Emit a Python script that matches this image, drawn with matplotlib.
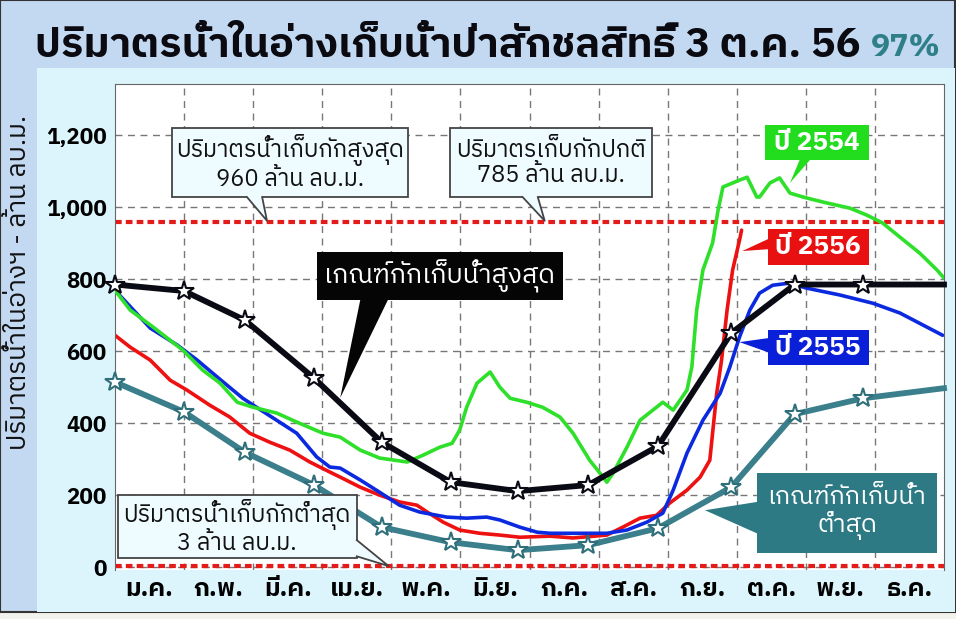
import matplotlib
matplotlib.use("Agg")
import matplotlib.pyplot as plt
from matplotlib import font_manager as fm
from matplotlib.ft2font import FT2Font
from matplotlib.patches import Rectangle, Polygon
from matplotlib.lines import Line2D
import numpy as np

# ---------------- data ----------------
title_text = "ปริมาตรน้ำในอ่างเก็บน้ำป่าสักชลสิทธิ์ 3 ต.ค. 56"
title_pct = "97%"
ylabel_text = "ปริมาตรน้ำในอ่างฯ - ล้าน ลบ.ม."
months = ["ม.ค.", "ก.พ.", "มี.ค.", "เม.ย.", "พ.ค.", "มิ.ย.",
          "ก.ค.", "ส.ค.", "ก.ย.", "ต.ค.", "พ.ย.", "ธ.ค."]
yticks = [0, 200, 400, 600, 800, 1000, 1200]
max_storage = 960
min_storage = 3

# rule curves (month position, million m3)
rule_x = [0, 1.0, 1.88, 2.88, 3.86, 4.86, 5.83, 6.85, 7.86, 8.92, 9.84, 10.83, 12.0]
upper_rule = [785, 767, 686, 525, 347, 236, 211, 228, 336, 650, 785, 785, 785]
lower_rule = [514, 431, 319, 228, 111, 69, 47, 61, 108, 222, 425, 469, 497]

# year 2554
y2554_x = [0, 0.22, 0.55, 0.98, 1.27, 1.52, 1.77, 2.0, 2.34, 2.63, 3.01, 3.26, 3.55,
           3.83, 4.23, 4.46, 4.70, 4.88, 4.99, 5.09, 5.24, 5.43, 5.57, 5.72, 5.96,
           6.19, 6.44, 6.63, 6.87, 7.02, 7.12, 7.21, 7.41, 7.60, 7.93, 8.08, 8.28,
           8.35, 8.42, 8.51, 8.65, 8.73, 8.80, 8.94, 9.04, 9.15, 9.29, 9.33, 9.48,
           9.62, 9.77, 9.96, 10.25, 10.64, 10.88, 11.11, 11.36, 11.65, 11.90, 12.0]
y2554_v = [769, 714, 667, 603, 547, 511, 458, 444, 428, 403, 372, 361, 325,
           303, 292, 311, 333, 344, 381, 444, 511, 542, 500, 469, 458,
           444, 417, 372, 297, 261, 236, 261, 333, 408, 458, 436, 492,
           556, 714, 825, 900, 992, 1056, 1067, 1075, 1083, 1028, 1028, 1067,
           1081, 1039, 1028, 1014, 997, 978, 956, 917, 872, 825, 803]

# year 2555
y2555_x = [0, 0.51, 0.90, 1.19, 1.48, 1.85, 2.0, 2.34, 2.63, 2.92, 3.11, 3.26, 3.55,
           3.83, 4.12, 4.41, 4.80, 5.09, 5.38, 5.57, 5.86, 6.11, 6.30, 6.63, 7.12,
           7.41, 7.70, 7.93, 8.08, 8.28, 8.51, 8.76, 8.90, 9.04, 9.19, 9.33, 9.52,
           9.77, 10.01, 10.49, 10.97, 11.36, 11.75, 11.98]
y2555_v = [769, 664, 617, 575, 528, 469, 450, 408, 372, 306, 278, 275, 242,
           208, 172, 153, 139, 136, 139, 131, 111, 97, 94, 94, 94,
           103, 125, 150, 214, 317, 408, 483, 556, 639, 714, 761, 783,
           789, 775, 756, 733, 706, 667, 644]

# year 2556
y2556_x = [0, 0.22, 0.51, 0.80, 1.04, 1.37, 1.66, 1.95, 2.24, 2.53, 2.82, 3.11, 3.26,
           3.55, 3.83, 4.12, 4.37, 4.52, 4.75, 4.99, 5.28, 5.57, 5.86, 6.30, 6.63,
           7.12, 7.35, 7.60, 7.84, 8.03, 8.28, 8.47, 8.61, 8.65, 8.71, 8.78, 8.86,
           8.94, 9.04, 9.07]
y2556_v = [644, 611, 575, 519, 492, 450, 417, 372, 347, 325, 292, 264, 250,
           222, 200, 181, 172, 153, 125, 103, 94, 89, 83, 86, 81,
           89, 111, 136, 144, 178, 214, 250, 297, 372, 483, 575, 714,
           825, 908, 936]

# ---------------- fonts ----------------
def thai_families():
    good = []
    for fe in fm.fontManager.ttflist:
        try:
            f = FT2Font(fe.fname)
            if f.get_char_index(0x0E01) and f.get_char_index(0x0E49):
                good.append(fe.name)
        except Exception:
            pass
    good = sorted(set(good), key=lambda n: (0 if "Thai" in n else 1, n))
    return good

thai = thai_families()
FAM = (thai[:1] if thai else []) + ["DejaVu Sans"]
plt.rcParams["font.family"] = FAM

# ---------------- figure ----------------
W, H = 956, 619
fig = plt.figure(figsize=(W / 100, H / 100), dpi=100)
fig.patch.set_facecolor("#f3f3ee")

def fx(px):
    return px / W

def fy(py):
    return 1 - py / H

outer = Rectangle((0, fy(612)), fx(955), 1 - fy(612), transform=fig.transFigure,
                  fc="#c3d9f1", ec="#333333", lw=1.5, zorder=-2)
inner = Rectangle((fx(37), fy(612)), fx(955) - fx(37), fy(68) - fy(612),
                  transform=fig.transFigure, fc="#dcf5fc", ec="none", zorder=-1)
fig.patches.extend([outer, inner])

ax = fig.add_axes([fx(115), fy(570), fx(944) - fx(115), fy(84) - fy(570)])
ax.set_zorder(2)
ax.set_facecolor("white")
ax.set_xlim(0, 12)
ax.set_ylim(-8, 1342)

for s in ["left", "top", "right"]:
    ax.spines[s].set_color("#666666")
    ax.spines[s].set_linewidth(0.8)
ax.spines["bottom"].set_visible(False)

ax.set_xticks(np.arange(12) + 0.5)
ax.set_xticklabels(months, fontsize=18, fontweight="bold", style="italic")
ax.set_xticks(np.arange(1, 12), minor=True)
ax.set_yticks(yticks)
ax.set_yticklabels([f"{v:,}" for v in yticks], fontsize=16, fontweight="bold", style="italic")
ax.tick_params(axis="both", which="both", length=0)
ax.tick_params(axis="y", pad=6)
ax.tick_params(axis="x", pad=5)
ax.xaxis.grid(True, which="minor", color="#777777", ls=(0, (5, 4)), lw=1)
ax.yaxis.grid(True, which="major", color="#777777", ls=(0, (5, 4)), lw=1)
ax.set_axisbelow(True)

# reference lines
ax.axhline(max_storage, color="#e31b1b", lw=3, ls=(0, (1.6, 1)), zorder=1.5)
ax.axhline(min_storage, color="#e31b1b", lw=3, ls=(0, (1.6, 1)), zorder=1.5, clip_on=False)

# series
ax.plot(y2556_x, y2556_v, color="#ee1111", lw=2.6, zorder=2, solid_capstyle="round")
ax.plot(y2555_x, y2555_v, color="#0b2ae0", lw=2.6, zorder=3, solid_capstyle="round")
ax.plot(y2554_x, y2554_v, color="#2ee02a", lw=2.6, zorder=4, solid_capstyle="round")
ax.plot(rule_x, lower_rule, color="#3a7f8b", lw=4.2, zorder=5, clip_on=False,
        marker="*", ms=15, mfc="white", mec="#2f6f7a", mew=1.5,
        markevery=list(range(12)))
ax.plot(rule_x, upper_rule, color="#0a0a14", lw=4.2, zorder=6, clip_on=False,
        marker="*", ms=15, mfc="white", mec="#0a0a14", mew=1.5,
        markevery=list(range(12)))

# ---------------- callouts ----------------
def callout(x0, x1, y0, y1, base, inset, tip, text, fc, tc, fs,
            ec=None, weight="normal", ls=1.1):
    z = 10
    ax.add_patch(Rectangle((x0, y0), x1 - x0, y1 - y0, fc=fc,
                           ec=ec if ec else "none", lw=1.3 if ec else 0,
                           zorder=z, clip_on=False))
    b0, b1 = base
    pts = [(b0[0] + inset[0], b0[1] + inset[1]), b0, tip, b1,
           (b1[0] + inset[0], b1[1] + inset[1])]
    ax.add_patch(Polygon(pts, closed=True, fc=fc, ec="none", zorder=z + 0.5,
                         clip_on=False))
    if ec:
        ax.add_line(Line2D([b0[0], tip[0], b1[0]], [b0[1], tip[1], b1[1]],
                           color=ec, lw=1.3, zorder=z + 0.6, clip_on=False))
    ax.text((x0 + x1) / 2, (y0 + y1) / 2, text, ha="center", va="center",
            color=tc, fontsize=fs, style="italic", fontweight=weight,
            zorder=z + 1, linespacing=ls)

LIGHT = "#effcff"
EDGE = "#444444"
callout(0.83, 4.24, 1028, 1219, [(1.91, 1028), (2.13, 1028)], (0, 12), (2.20, 962),
        "ปริมาตรน้ำเก็บกักสูงสุด\n960 ล้าน ลบ.ม.", LIGHT, "#111111", 17, ec=EDGE)
callout(4.85, 7.77, 1028, 1219, [(5.90, 1028), (6.12, 1028)], (0, 12), (6.22, 962),
        "ปริมาตรเก็บกักปกติ\n785 ล้าน ลบ.ม.", LIGHT, "#111111", 17, ec=EDGE)
callout(0.04, 3.50, 25, 200, [(3.50, 75), (3.50, 30)], (-0.05, 0), (3.96, 3),
        "ปริมาตรน้ำเก็บกักต่ำสุด\n3 ล้าน ลบ.ม.", LIGHT, "#111111", 17, ec=EDGE)
callout(2.92, 6.48, 742, 875, [(3.55, 742), (3.95, 742)], (0, 10), (3.26, 470),
        "เกณฑ์กักเก็บน้ำสูงสุด", "#050505", "white", 19)
callout(9.41, 10.91, 1131, 1228, [(9.91, 1131), (10.06, 1131)], (0, 8), (9.77, 1067),
        "ปี 2554", "#22dd1e", "white", 19, weight="bold")
callout(9.45, 10.91, 839, 939, [(9.45, 911), (9.45, 883)], (0.05, 0), (9.08, 878),
        "ปี 2556", "#e81010", "white", 19, weight="bold")
callout(9.45, 10.91, 561, 658, [(9.45, 636), (9.45, 597)], (0.05, 0), (9.04, 625),
        "ปี 2555", "#0a1fd8", "white", 19, weight="bold")
callout(9.29, 11.90, 39, 261, [(9.29, 181), (9.29, 94)], (0.05, 0), (8.54, 158),
        "เกณฑ์กักเก็บน้ำ\nต่ำสุด", "#2d7a85", "white", 18)

# ---------------- titles ----------------
t1 = fig.text(fx(35), fy(46), title_text, ha="left", va="center", fontsize=26,
              fontweight="bold", style="italic", color="#0a0a10")
yl = fig.text(fx(19), fy(282), ylabel_text, rotation=90, ha="center", va="center",
              fontsize=19, style="italic", color="#111111")
fig.canvas.draw()
r = fig.canvas.get_renderer()
bb = t1.get_window_extent(r)
t1.set_fontsize(26 * (860 - 35) / bb.width)
fig.text(fx(871), fy(48), title_pct, ha="left", va="center", fontsize=23,
         fontweight="bold", color="#2f7f89")

fig.savefig("out.png", dpi=100, facecolor=fig.get_facecolor())
